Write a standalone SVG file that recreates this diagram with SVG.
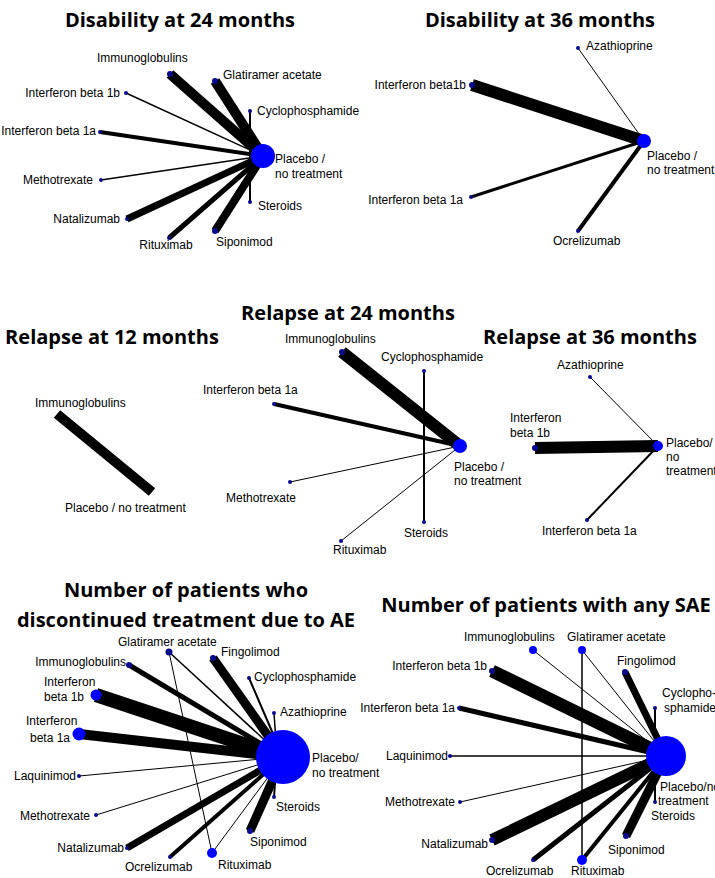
<svg xmlns="http://www.w3.org/2000/svg" width="715" height="878" viewBox="0 0 715 878">
<style>
text{font-family:"Liberation Sans",Arial,sans-serif;font-size:12px;fill:#000}
.t{font-family:"Open Sans","Liberation Sans",sans-serif;font-size:20px;font-weight:bold;text-anchor:middle}
.e{text-anchor:end}
.m{text-anchor:middle}
line{stroke:#000}
.d{fill:#0a0a8c}
.b{fill:#0000ff}
</style>
<rect width="715" height="878" fill="#fff"/>
<g id="titles">
<text class="t" x="180" y="27">Disability at 24 months</text>
<text class="t" x="540" y="27">Disability at 36 months</text>
<text class="t" x="348" y="320">Relapse at 24 months</text>
<text class="t" x="112" y="344">Relapse at 12 months</text>
<text class="t" x="590" y="344">Relapse at 36 months</text>
<text class="t" x="186" y="597">Number of patients who</text>
<text class="t" x="186" y="627">discontinued treatment due to AE</text>
<text class="t" x="546" y="612">Number of patients with any SAE</text>
</g>
<g id="connectors">
<line x1="263" y1="156" x2="170" y2="74" stroke-width="10"/>
<line x1="263" y1="156" x2="215" y2="81" stroke-width="10"/>
<line x1="263" y1="156" x2="126" y2="93" stroke-width="1.5"/>
<line x1="250" y1="156" x2="250" y2="111" stroke-width="2"/>
<line x1="263" y1="156" x2="100" y2="132" stroke-width="4"/>
<line x1="263" y1="156" x2="101" y2="180" stroke-width="1.5"/>
<line x1="263" y1="156" x2="127" y2="219" stroke-width="7"/>
<line x1="263" y1="156" x2="169" y2="238" stroke-width="5"/>
<line x1="263" y1="156" x2="215" y2="231" stroke-width="8"/>
<line x1="250" y1="156" x2="250" y2="202" stroke-width="2"/>
<line x1="644" y1="141" x2="578" y2="48" stroke-width="1"/>
<line x1="644" y1="141" x2="472" y2="85" stroke-width="12"/>
<line x1="644" y1="141" x2="471" y2="197" stroke-width="3"/>
<line x1="644" y1="141" x2="578" y2="231" stroke-width="4"/>
<line x1="57" y1="414" x2="152" y2="492" stroke-width="10"/>
<line x1="460" y1="446" x2="342" y2="352" stroke-width="12"/>
<line x1="424" y1="371" x2="424" y2="522" stroke-width="2"/>
<line x1="460" y1="446" x2="274" y2="404" stroke-width="4"/>
<line x1="460" y1="446" x2="290" y2="482" stroke-width="1"/>
<line x1="460" y1="446" x2="341" y2="541" stroke-width="1"/>
<line x1="658" y1="446" x2="590" y2="377" stroke-width="1"/>
<line x1="658" y1="446" x2="535" y2="448" stroke-width="12"/>
<line x1="658" y1="446" x2="587" y2="520" stroke-width="2"/>
<line x1="283" y1="757" x2="169" y2="652" stroke-width="1.5"/>
<line x1="169" y1="652" x2="212" y2="853" stroke-width="1"/>
<line x1="283" y1="757" x2="213" y2="658" stroke-width="9"/>
<line x1="283" y1="757" x2="129" y2="665" stroke-width="5"/>
<line x1="283" y1="757" x2="249" y2="678" stroke-width="2"/>
<line x1="283" y1="757" x2="96" y2="695" stroke-width="14"/>
<line x1="277" y1="757" x2="274" y2="713" stroke-width="1.5"/>
<line x1="283" y1="757" x2="79" y2="734" stroke-width="10"/>
<line x1="283" y1="757" x2="79" y2="776" stroke-width="1"/>
<line x1="283" y1="757" x2="96" y2="815" stroke-width="1"/>
<line x1="283" y1="757" x2="127" y2="848" stroke-width="7"/>
<line x1="283" y1="757" x2="170" y2="857" stroke-width="4"/>
<line x1="283" y1="757" x2="212" y2="853" stroke-width="1"/>
<line x1="283" y1="757" x2="250" y2="831" stroke-width="9"/>
<line x1="277" y1="757" x2="274" y2="797" stroke-width="2"/>
<line x1="666" y1="756" x2="533" y2="650" stroke-width="1"/>
<line x1="666" y1="756" x2="582" y2="650" stroke-width="1"/>
<line x1="582" y1="650" x2="582" y2="860" stroke-width="1.5"/>
<line x1="666" y1="756" x2="625" y2="672" stroke-width="7"/>
<line x1="666" y1="756" x2="492" y2="671" stroke-width="13"/>
<line x1="655" y1="756" x2="655" y2="708" stroke-width="2"/>
<line x1="666" y1="756" x2="459" y2="708" stroke-width="5"/>
<line x1="666" y1="756" x2="450" y2="756" stroke-width="1.5"/>
<line x1="666" y1="756" x2="460" y2="802" stroke-width="1"/>
<line x1="666" y1="756" x2="492" y2="840" stroke-width="12"/>
<line x1="666" y1="756" x2="533" y2="860" stroke-width="5"/>
<line x1="666" y1="756" x2="582" y2="860" stroke-width="4"/>
<line x1="666" y1="756" x2="626" y2="836" stroke-width="9"/>
<line x1="655" y1="756" x2="655" y2="802" stroke-width="2"/>
</g>
<g id="disability24">
<circle class="b" cx="263" cy="156" r="12"/><text x="275" y="163">Placebo /</text><text x="275" y="178">no treatment</text>
<circle class="d" cx="170" cy="74" r="3"/><text x="97" y="62">Immunoglobulins</text>
<circle class="d" cx="215" cy="81" r="3"/><text x="223" y="79">Glatiramer acetate</text>
<circle class="d" cx="126" cy="93" r="2"/><text class="e" x="120" y="97">Interferon beta 1b</text>
<circle class="d" cx="250" cy="111" r="2"/><text x="257" y="115">Cyclophosphamide</text>
<circle class="d" cx="100" cy="132" r="2"/><text class="e" x="96" y="135">Interferon beta 1a</text>
<circle class="d" cx="101" cy="180" r="2"/><text class="e" x="93" y="184">Methotrexate</text>
<circle class="d" cx="127" cy="219" r="2"/><text class="e" x="120" y="223">Natalizumab</text>
<circle class="d" cx="169" cy="238" r="2"/><text class="m" x="166" y="249">Rituximab</text>
<circle class="d" cx="215" cy="231" r="3"/><text x="216" y="246">Siponimod</text>
<circle class="d" cx="250" cy="202" r="2"/><text x="258" y="210">Steroids</text>
</g>
<g id="disability36">
<circle class="b" cx="644" cy="141" r="7"/><text x="647" y="160">Placebo /</text><text x="647" y="174">no treatment</text>
<circle class="d" cx="578" cy="48" r="2"/><text x="586" y="50">Azathioprine</text>
<circle class="d" cx="472" cy="85" r="3"/><text class="e" x="466" y="89">Interferon beta1b</text>
<circle class="d" cx="471" cy="197" r="2"/><text class="e" x="463" y="204">Interferon beta 1a</text>
<circle class="d" cx="578" cy="231" r="2"/><text x="553" y="245">Ocrelizumab</text>
</g>
<g id="relapse12">
<text x="35" y="407">Immunoglobulins</text>
<text x="65" y="512">Placebo / no treatment</text>
</g>
<g id="relapse24">
<circle class="b" cx="460" cy="446" r="7"/><text x="454" y="471">Placebo /</text><text x="454" y="485">no treatment</text>
<circle class="d" cx="342" cy="352" r="3"/><text x="285" y="343">Immunoglobulins</text>
<circle class="d" cx="424" cy="371" r="2"/><text x="381" y="361">Cyclophosphamide</text>
<circle class="d" cx="424" cy="522" r="2"/><text x="404" y="537">Steroids</text>
<circle class="d" cx="274" cy="404" r="2"/><text x="203" y="394">Interferon beta 1a</text>
<circle class="d" cx="290" cy="482" r="2"/><text x="226" y="502">Methotrexate</text>
<circle class="d" cx="341" cy="541" r="2"/><text x="333" y="554">Rituximab</text>
</g>
<g id="relapse36">
<circle class="b" cx="658" cy="446" r="5"/><text x="666" y="447">Placebo/</text><text x="666" y="461">no</text><text x="666" y="475">treatment</text>
<circle class="d" cx="590" cy="377" r="2"/><text x="557" y="369">Azathioprine</text>
<circle class="d" cx="535" cy="448" r="3"/><text x="510" y="422">Interferon</text><text x="510" y="437">beta 1b</text>
<circle class="d" cx="587" cy="520" r="2"/><text x="542" y="535">Interferon beta 1a</text>
</g>
<g id="discontinued">
<circle class="b" cx="283" cy="757" r="27"/><text x="312" y="762">Placebo/</text><text x="312" y="777">no treatment</text>
<circle class="d" cx="169" cy="652" r="3.5"/><text x="118" y="646">Glatiramer acetate</text>
<circle class="d" cx="213" cy="658" r="3"/><text x="221" y="656">Fingolimod</text>
<circle class="d" cx="129" cy="665" r="3"/><text class="e" x="126" y="666">Immunoglobulins</text>
<circle class="d" cx="249" cy="678" r="2"/><text x="254" y="681">Cyclophosphamide</text>
<circle class="b" cx="96" cy="695" r="5.5"/><text x="44" y="686">Interferon</text><text x="44" y="701">beta 1b</text>
<circle class="d" cx="274" cy="713" r="2"/><text x="280" y="716">Azathioprine</text>
<circle class="b" cx="79" cy="734" r="6.5"/><text x="26" y="725">Interferon</text><text x="30" y="742">beta 1a</text>
<circle class="d" cx="79" cy="776" r="2"/><text class="e" x="76" y="780">Laquinimod</text>
<circle class="d" cx="96" cy="815" r="2"/><text class="e" x="90" y="820">Methotrexate</text>
<circle class="d" cx="127" cy="848" r="2"/><text class="e" x="124" y="852">Natalizumab</text>
<circle class="d" cx="170" cy="857" r="2"/><text x="125" y="871">Ocrelizumab</text>
<circle class="b" cx="212" cy="853" r="5"/><text x="218" y="869">Rituximab</text>
<circle class="d" cx="250" cy="831" r="3"/><text x="250" y="846">Siponimod</text>
<circle class="d" cx="274" cy="797" r="2"/><text x="276" y="811">Steroids</text>
</g>
<g id="sae">
<circle class="b" cx="666" cy="756" r="20"/><text x="660" y="791">Placebo/no</text><text x="658" y="805">treatment</text>
<circle class="b" cx="533" cy="650" r="4"/><text x="464" y="641">Immunoglobulins</text>
<circle class="b" cx="582" cy="650" r="4"/><text x="567" y="641">Glatiramer acetate</text>
<circle class="d" cx="625" cy="672" r="3"/><text x="617" y="665">Fingolimod</text>
<circle class="d" cx="492" cy="671" r="3"/><text class="e" x="487" y="670">Interferon beta 1b</text>
<circle class="d" cx="655" cy="708" r="2"/><text x="662" y="697">Cyclopho-</text><text x="664" y="712">sphamide</text>
<circle class="d" cx="459" cy="708" r="2"/><text class="e" x="455" y="712">Interferon beta 1a</text>
<circle class="d" cx="450" cy="756" r="2"/><text class="e" x="448" y="760">Laquinimod</text>
<circle class="d" cx="460" cy="802" r="2"/><text class="e" x="455" y="806">Methotrexate</text>
<circle class="d" cx="492" cy="840" r="3"/><text class="e" x="488" y="848">Natalizumab</text>
<circle class="d" cx="533" cy="860" r="2"/><text x="486" y="875">Ocrelizumab</text>
<circle class="b" cx="582" cy="860" r="5"/><text x="571" y="875">Rituximab</text>
<circle class="d" cx="626" cy="836" r="3"/><text x="608" y="854">Siponimod</text>
<circle class="d" cx="655" cy="802" r="2"/><text x="651" y="820">Steroids</text>
</g>
</svg>
